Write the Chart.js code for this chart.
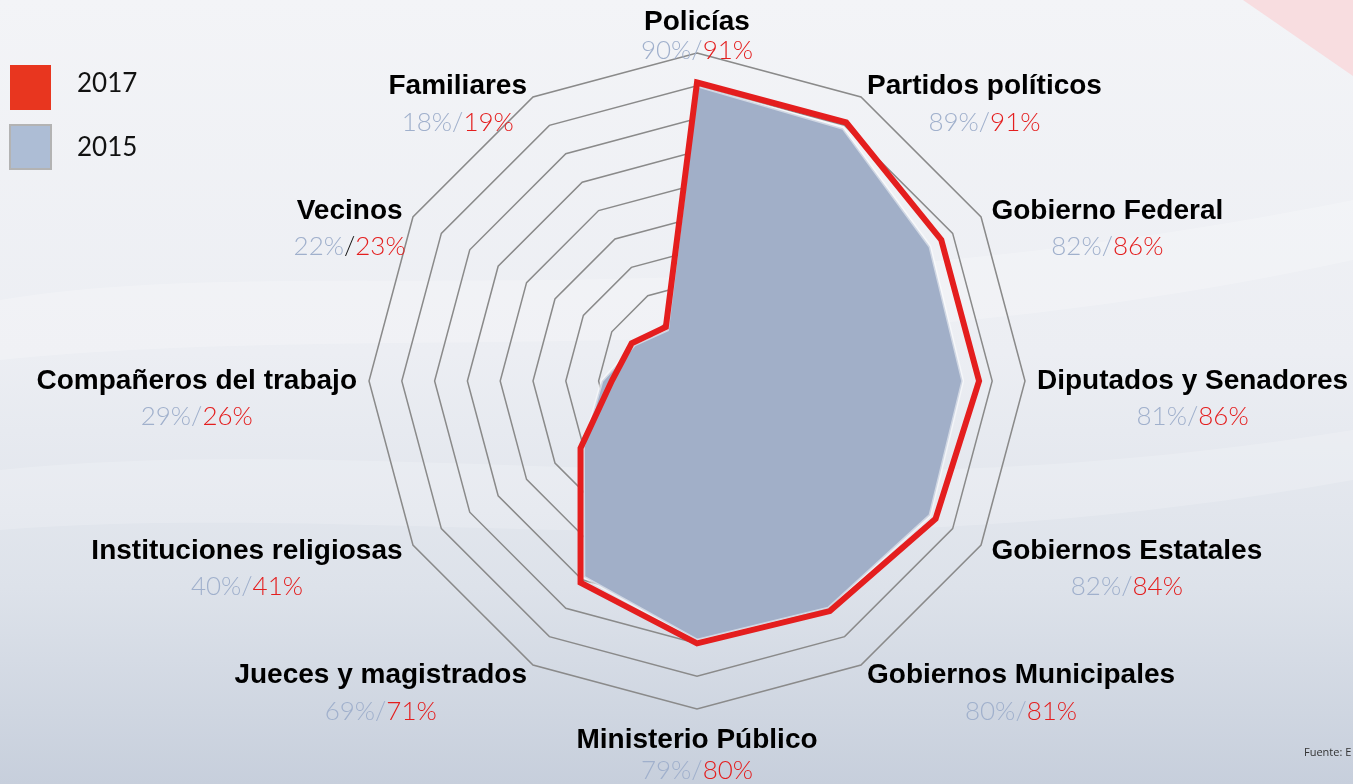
<!DOCTYPE html>
<html lang="es">
<head>
<meta charset="utf-8">
<title>Confianza en instituciones 2015 / 2017</title>
<script src="https://cdn.jsdelivr.net/npm/chart.js@4.4.1/dist/chart.umd.min.js"></script>
<style>
  html, body { margin: 0; padding: 0; }
  #wrap { position: relative; width: 1353px; height: 784px; overflow: hidden; }
</style>
</head>
<body>
<div id="wrap"><canvas id="radar"></canvas></div>
<script>
// categories, clockwise from the top
const categories = [
  'Policías', 'Partidos políticos', 'Gobierno Federal', 'Diputados y Senadores',
  'Gobiernos Estatales', 'Gobiernos Municipales', 'Ministerio Público',
  'Jueces y magistrados', 'Instituciones religiosas', 'Compañeros del trabajo',
  'Vecinos', 'Familiares'
];
const values2017 = [91, 91, 86, 86, 84, 81, 80, 71, 41, 26, 23, 19];
const values2015 = [90, 89, 82, 81, 82, 80, 79, 69, 40, 29, 22, 18];
const seriesLabels = ['2017', '2015'];
const scaleMax = 100;
const scaleStep = 10;

const RED = '#e41e1e';
const BLUE_GREY = '#a1afc8';
const PCT_GREY = '#a0b0cc';
const darkSlash = ['Vecinos'];

// background: soft gradient, faint white swooshes and the pink corner
const backdrop = {
  id: 'backdrop',
  beforeDraw(chart) {
    const { ctx, width, height } = chart;
    ctx.save();
    const g = ctx.createLinearGradient(0, 0, 0, height);
    g.addColorStop(0, '#f3f4f7');
    g.addColorStop(0.45, '#eceef3');
    g.addColorStop(0.75, '#dde2ea');
    g.addColorStop(1, '#c7cfdc');
    ctx.fillStyle = g;
    ctx.fillRect(0, 0, width, height);

    ctx.fillStyle = 'rgba(255,255,255,0.22)';
    ctx.beginPath();
    ctx.moveTo(0, 300);
    ctx.bezierCurveTo(300, 250, 700, 330, 1353, 200);
    ctx.lineTo(1353, 260);
    ctx.bezierCurveTo(800, 380, 400, 320, 0, 360);
    ctx.closePath();
    ctx.fill();

    ctx.fillStyle = 'rgba(255,255,255,0.18)';
    ctx.beginPath();
    ctx.moveTo(0, 470);
    ctx.bezierCurveTo(400, 430, 800, 520, 1353, 430);
    ctx.lineTo(1353, 480);
    ctx.bezierCurveTo(800, 580, 400, 500, 0, 530);
    ctx.closePath();
    ctx.fill();

    ctx.fillStyle = '#f8dde0';
    ctx.beginPath();
    ctx.moveTo(1243, 0);
    ctx.lineTo(width, 0);
    ctx.lineTo(width, 76);
    ctx.closePath();
    ctx.fill();
    ctx.restore();
  }
};

// labels with the two percentages under each category
const pointText = {
  id: 'pointText',
  afterDraw(chart) {
    const { ctx } = chart;
    const scale = chart.scales.r;
    const d17 = chart.data.datasets[0].data;
    const d15 = chart.data.datasets[1].data;
    ctx.save();
    ctx.textBaseline = 'middle';
    categories.forEach((name, i) => {
      const p = scale.getPointPosition(i, scale.drawingArea + 12);
      const deg = Math.round(i * 360 / categories.length);
      ctx.font = 'bold 28px "Liberation Sans", Arial, sans-serif';
      const w = ctx.measureText(name).width;
      let cx, boldY, pctY;
      if (deg === 0) {
        cx = p.x; boldY = p.y - 19; pctY = boldY + 29;
      } else if (deg === 180) {
        cx = p.x; boldY = p.y + 19; pctY = boldY + 31;
      } else if (deg < 180) {
        cx = p.x + w / 2; boldY = p.y; pctY = boldY + 36;
      } else {
        cx = p.x - w / 2; boldY = p.y; pctY = boldY + 36;
      }
      ctx.fillStyle = '#000';
      ctx.textAlign = 'center';
      ctx.fillText(name, cx, boldY);

      ctx.font = '300 26px Lato, "Open Sans", sans-serif';
      const parts = [
        [d15[i] + '%', PCT_GREY],
        ['/', darkSlash.includes(name) ? '#111' : PCT_GREY],
        [d17[i] + '%', RED]
      ];
      const total = parts.reduce((s, t) => s + ctx.measureText(t[0]).width, 0);
      let x = cx - total / 2;
      ctx.textAlign = 'left';
      parts.forEach(([t, c]) => {
        ctx.fillStyle = c;
        ctx.fillText(t, x, pctY);
        x += ctx.measureText(t).width;
      });
    });

    // legend
    ctx.font = '400 26px Lato, "Open Sans", sans-serif';
    ctx.fillStyle = '#e8361f';
    ctx.fillRect(10, 65, 41, 45);
    ctx.fillStyle = '#adbdd5';
    ctx.fillRect(10, 125, 41, 44);
    ctx.strokeStyle = '#b3b3b3';
    ctx.lineWidth = 2;
    ctx.strokeRect(10, 125, 41, 44);
    ctx.fillStyle = '#111';
    ctx.fillText(seriesLabels[0], 77, 84);
    ctx.fillText(seriesLabels[1], 77, 148);

    ctx.font = '11px "Open Sans", sans-serif';
    ctx.fillStyle = '#333';
    ctx.fillText('Fuente: E', 1304, 753);
    ctx.restore();
  }
};

new Chart(document.getElementById('radar'), {
  type: 'radar',
  data: {
    labels: categories,
    datasets: [
      {
        label: seriesLabels[0],
        data: values2017,
        borderColor: RED,
        borderWidth: 6,
        borderJoinStyle: 'miter',
        backgroundColor: 'rgba(0,0,0,0)',
        fill: false,
        pointRadius: 0
      },
      {
        label: seriesLabels[1],
        data: values2015,
        borderColor: 'rgba(255,255,255,0.5)',
        borderWidth: 3,
        backgroundColor: BLUE_GREY,
        fill: true,
        pointRadius: 0
      }
    ]
  },
  options: {
    responsive: true,
    maintainAspectRatio: false,
    animation: false,
    layout: {
      padding: { top: 53, bottom: 75, left: 41, right: 0 }
    },
    scales: {
      r: {
        min: 0,
        max: scaleMax,
        ticks: { stepSize: scaleStep, display: false },
        grid: { color: '#8a8a8a', lineWidth: 1.5 },
        angleLines: { display: false },
        pointLabels: { display: false }
      }
    },
    plugins: {
      legend: { display: false },
      tooltip: { enabled: false }
    }
  },
  plugins: [backdrop, pointText]
});
</script>
</body>
</html>
